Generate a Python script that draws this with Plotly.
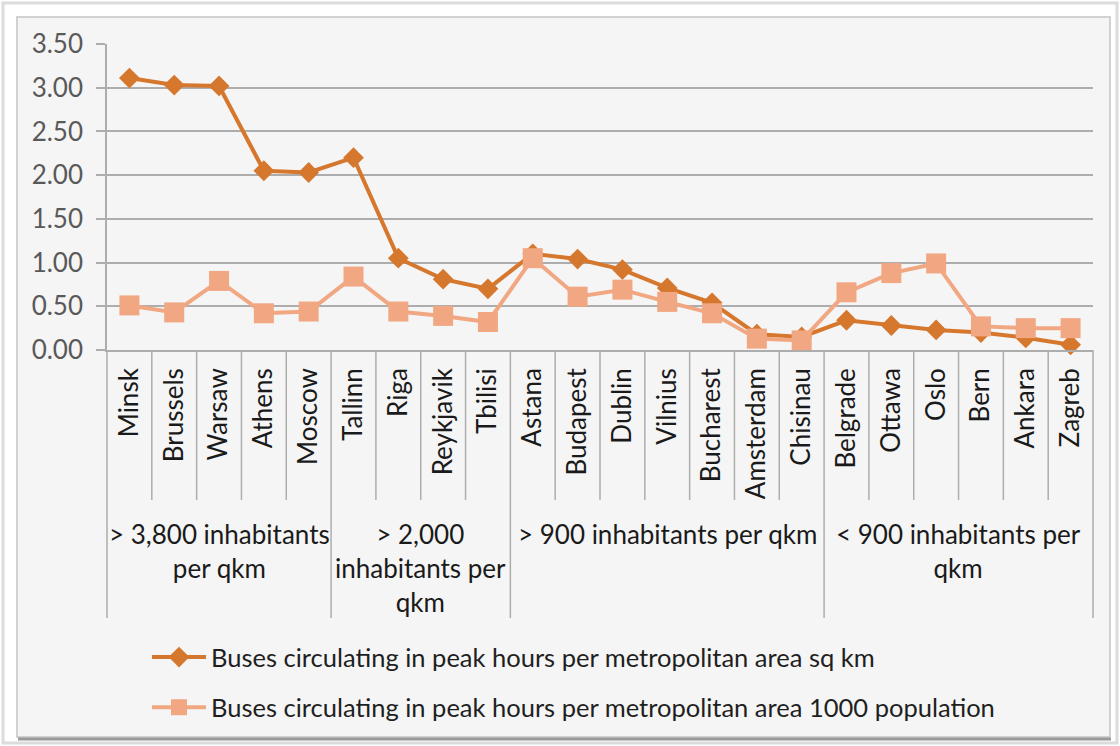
import plotly.graph_objects as go

cities = ["Minsk", "Brussels", "Warsaw", "Athens", "Moscow",
          "Tallinn", "Riga", "Reykjavik", "Tbilisi",
          "Astana", "Budapest", "Dublin", "Vilnius", "Bucharest", "Amsterdam", "Chisinau",
          "Belgrade", "Ottawa", "Oslo", "Bern", "Ankara", "Zagreb"]
per_sq_km = [3.11, 3.03, 3.02, 2.05, 2.03,
             2.20, 1.05, 0.81, 0.70,
             1.10, 1.04, 0.92, 0.71, 0.54, 0.18, 0.15,
             0.34, 0.28, 0.23, 0.20, 0.14, 0.06]
per_1000_pop = [0.51, 0.43, 0.79, 0.42, 0.44,
                0.84, 0.44, 0.39, 0.32,
                1.05, 0.61, 0.69, 0.55, 0.42, 0.13, 0.11,
                0.66, 0.88, 0.99, 0.27, 0.25, 0.25]
group_labels = ["> 3,800 inhabitants<br>per qkm",
                "> 2,000<br>inhabitants per<br>qkm",
                "> 900 inhabitants per qkm",
                "< 900 inhabitants per<br>qkm"]
group_sizes = [5, 4, 7, 6]
series_names = ["Buses circulating in peak hours per metropolitan area sq km",
                "Buses circulating in peak hours per metropolitan area 1000 population"]
y_ticks = [0, 0.5, 1.0, 1.5, 2.0, 2.5, 3.0, 3.5]

W, H = 1120, 746
L, R, T, B = 107, 27, 44, 396
PW, PH = W - L - R, H - T - B

def px(xp):
    return (xp - L) / PW

def py(yp):
    return (H - B - yp) / PH

FONT = "Lato"
GRID = "#ADADAD"
C1 = "#D6772E"
C2 = "#F1A882"

fig = go.Figure()
fig.add_trace(go.Scatter(
    x=cities, y=per_sq_km, name=series_names[0], mode="lines+markers",
    line=dict(color=C1, width=4), legendgroup="a",
    marker=dict(symbol="diamond", size=16, color=C1), cliponaxis=False))
fig.add_trace(go.Scatter(
    x=cities, y=per_1000_pop, name=series_names[1], mode="lines+markers",
    line=dict(color=C2, width=4), legendgroup="b",
    marker=dict(symbol="square", size=20, color=C2), cliponaxis=False))

shapes = []
# outer frame and chart area
shapes.append(dict(type="rect", xref="paper", yref="paper",
                   x0=px(3), x1=px(1117), y0=py(743), y1=py(3),
                   line=dict(color="#DCDCDC", width=3), fillcolor="white", layer="below"))
shapes.append(dict(type="rect", xref="paper", yref="paper",
                   x0=px(17), x1=px(1110), y0=py(737), y1=py(17),
                   line=dict(color="#C4C4C4", width=1.5), fillcolor="#F5F5F5", layer="below"))
shapes.append(dict(type="line", xref="paper", yref="paper",
                   x0=px(18), x1=px(1111), y0=py(739), y1=py(739),
                   line=dict(color="#9A9A9A", width=3), layer="below"))

# category dividers
n = len(cities)
group_bounds = [-0.5]
acc = 0
for s in group_sizes:
    acc += s
    group_bounds.append(acc - 0.5)
for i in range(1, n):
    b = i - 0.5
    if b in group_bounds:
        continue
    shapes.append(dict(type="line", xref="x", yref="paper", x0=b, x1=b,
                       y0=0, y1=py(500), line=dict(color=GRID, width=1.5)))
for b in group_bounds:
    xr, xv = "x", b
    if b == -0.5:
        xr, xv = "paper", 0
    elif b == n - 0.5:
        xr, xv = "paper", 1
    shapes.append(dict(type="line", xref=xr, yref="paper", x0=xv, x1=xv,
                       y0=0, y1=py(618), line=dict(color=GRID, width=1.5)))

annotations = []
start = 0
for lab, s in zip(group_labels, group_sizes):
    centre = start + (s - 1) / 2
    annotations.append(dict(text=lab, xref="x", yref="paper", x=centre, y=py(516),
                            xanchor="center", yanchor="top", showarrow=False,
                            font=dict(family=FONT, size=26, color="#1A1A1A")))
    start += s

fig.update_layout(
    width=W, height=H,
    margin=dict(l=L, r=R, t=T, b=B),
    paper_bgcolor="white", plot_bgcolor="#F5F5F5",
    shapes=shapes, annotations=annotations,
    showlegend=True,
    legend=dict(x=px(147), y=py(634), xanchor="left", yanchor="top",
                bgcolor="rgba(0,0,0,0)", font=dict(family=FONT, size=25.5, color="#1F1F1F"),
                traceorder="grouped", tracegroupgap=14, itemwidth=54),
    xaxis=dict(type="category", range=[-0.5, n - 0.5], showgrid=False,
               showline=True, linecolor=GRID, linewidth=1.5,
               tickangle=-90, ticks="", ticklabelstandoff=6,
               tickfont=dict(family=FONT, size=26, color="#1A1A1A")),
    yaxis=dict(range=[0, 3.5], tickvals=y_ticks, tickformat=".2f",
               showgrid=True, gridcolor=GRID, gridwidth=1.5, zeroline=False,
               showline=True, linecolor=GRID, linewidth=1.5,
               ticks="outside", ticklen=9, tickcolor=GRID, tickwidth=1.5,
               ticklabelstandoff=8,
               tickfont=dict(family=FONT, size=26, color="#595959")),
)

fig.write_html("out.html", config={"displayModeBar": False},
               post_script="document.body.style.margin='0';")
